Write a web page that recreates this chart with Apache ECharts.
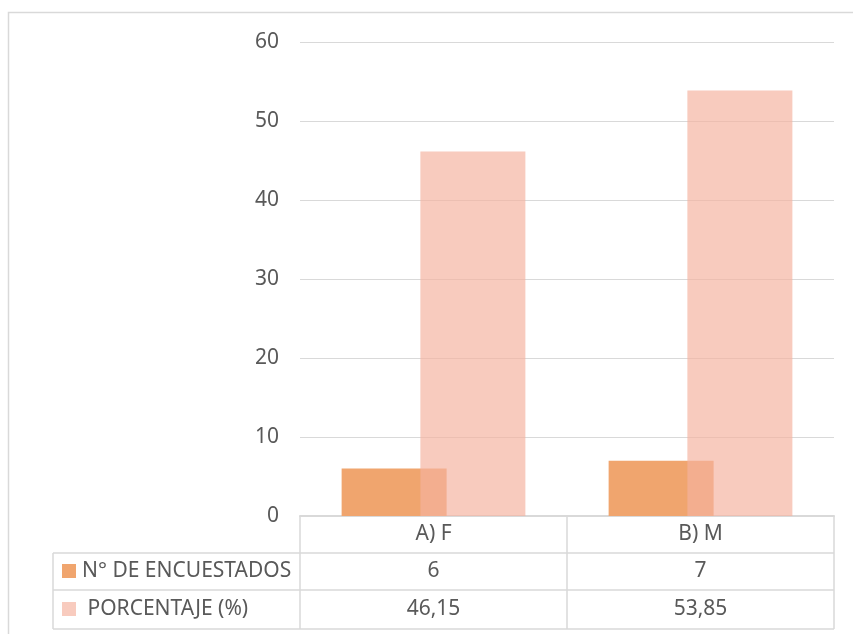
<!DOCTYPE html>
<html>
<head>
<meta charset="utf-8">
<script src="https://cdn.jsdelivr.net/npm/echarts@6/dist/echarts.min.js"></script>
<style>
html,body{margin:0;padding:0;background:#fff;}
#c{width:853px;height:634px;}
</style>
</head>
<body>
<div id="c"></div>
<script>
// ---- data ----
const categories = ['A) F', 'B) M'];
const seriesNames = ['N° DE ENCUESTADOS', ' PORCENTAJE (%)'];
const encuestados = [6, 7];
const porcentaje = [46.15, 53.85];
const tableRow1 = ['6', '7'];
const tableRow2 = ['46,15', '53,85'];
const yTicks = [0, 10, 20, 30, 40, 50, 60];

// ---- layout ----
const FONT = "'Noto Sans', 'Open Sans', sans-serif";
const FS = 21;
const TXT = '#595959';
const LINE = '#D9D9D9';
const ORANGE = '#F0A56E';
const PINK = 'rgba(245,178,159,0.68)';
const GL = 300, GR = 834, GT = 42, GB = 516;
const ROW1 = 553, ROW2 = 590, ROW3 = 629, TBL_LEFT = 53;

const chart = echarts.init(document.getElementById('c'));
chart.setOption({
  animation: false,
  backgroundColor: '#fff',
  grid: {left: GL, right: 853 - GR, top: GT, bottom: 634 - GB, containLabel: false},
  xAxis: {
    type: 'category', data: categories,
    axisLine: {show: true, lineStyle: {color: LINE, width: 2}},
    axisTick: {show: false},
    axisLabel: {color: TXT, fontFamily: FONT, fontSize: FS, margin: 8}
  },
  yAxis: {
    type: 'value', min: yTicks[0], max: yTicks[yTicks.length - 1], interval: 10,
    axisLine: {show: false}, axisTick: {show: false},
    axisLabel: {color: TXT, fontFamily: FONT, fontSize: FS, margin: 21},
    splitLine: {lineStyle: {color: LINE, width: 1}}
  },
  series: [
    {name: seriesNames[0], type: 'bar', data: encuestados, barWidth: 105, barGap: '-25%',
     itemStyle: {color: ORANGE}},
    {name: seriesNames[1], type: 'bar', data: porcentaje, barWidth: 105, barGap: '-25%',
     itemStyle: {color: PINK}}
  ]
});

// ---- data table ----
const centers = categories.map((c, i) => chart.convertToPixel({xAxisIndex: 0}, i));
const g = [];
const lineStyle = {stroke: LINE, lineWidth: 1.5};
g.push({type: 'rect', shape: {x: 8.5, y: 12.5, width: 900, height: 700}, style: {fill: null, stroke: LINE, lineWidth: 1.5}, silent: true});
[ROW1, ROW2, ROW3].forEach(y => g.push({type: 'line', shape: {x1: TBL_LEFT, y1: y, x2: GR, y2: y}, style: lineStyle}));
const colEdges = [GL];
for (let i = 0; i < categories.length - 1; i++) colEdges.push((centers[i] + centers[i + 1]) / 2);
colEdges.push(GR);
colEdges.forEach(x => g.push({type: 'line', shape: {x1: x, y1: GB, x2: x, y2: ROW3}, style: lineStyle}));
g.push({type: 'line', shape: {x1: TBL_LEFT, y1: ROW1, x2: TBL_LEFT, y2: ROW3}, style: lineStyle});
const rowMid = [(ROW1 + ROW2) / 2, (ROW2 + ROW3) / 2];
const keyColors = [ORANGE, 'rgb(248,203,190)'];
[0, 1].forEach(r => {
  g.push({type: 'rect', shape: {x: 62, y: rowMid[r] - 7.5, width: 14, height: 14}, style: {fill: keyColors[r]}});
  g.push({type: 'text', x: 82, y: rowMid[r], style: {text: seriesNames[r], fill: TXT, font: FS + 'px ' + FONT, verticalAlign: 'middle', align: 'left'}});
});
[tableRow1, tableRow2].forEach((row, r) => {
  row.forEach((v, i) => {
    g.push({type: 'text', x: centers[i], y: rowMid[r], style: {text: v, fill: TXT, font: FS + 'px ' + FONT, verticalAlign: 'middle', align: 'center'}});
  });
});
chart.setOption({graphic: g});
</script>
</body>
</html>
